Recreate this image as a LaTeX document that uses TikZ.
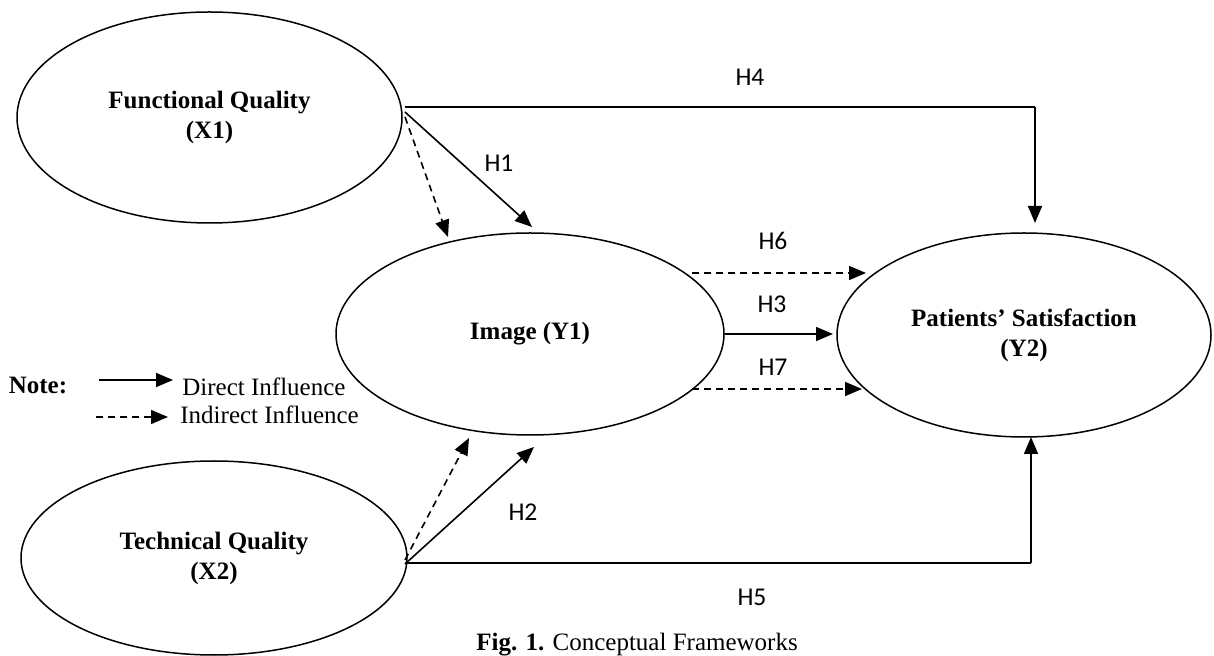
\documentclass[tikz,border=0pt]{standalone}
\usepackage{fontspec}
\setmainfont{Liberation Serif}
\newfontfamily\hfont{Carlito}
\usetikzlibrary{shapes.geometric,arrows.meta}
\tikzset{
latent/.style={draw,ellipse,line width=0.75pt,inner sep=0pt,align=center,font=\fontsize{12.5}{15}\selectfont\bfseries},
direct/.style={->,line width=0.8pt},
indirect/.style={->,line width=0.8pt,dash pattern=on 3.5pt off 2.5pt},
hlab/.style={font=\hfont\fontsize{12.8}{15}\selectfont},
plain/.style={font=\fontsize{12.5}{15}\selectfont,inner sep=0pt}
}
\begin{document}
\begin{tikzpicture}[>={Triangle[length=8.5pt,width=7pt]},line join=round,x=0.5pt,y=-0.5pt]
\useasboundingbox (0,0) rectangle (1214,656);
\node[latent,minimum width=192.5pt,minimum height=105.5pt] (X1) at (209.5,117.5) {Functional Quality\\(X1)};
\node[latent,minimum width=194pt,minimum height=101pt] (Y1) at (530,334) {Image (Y1)};
\node[latent,minimum width=187pt,minimum height=102pt] (Y2) at (1024,335) {Patients' Satisfaction\\(Y2)};
\node[latent,minimum width=193pt,minimum height=97pt] (X2) at (214,558) {Technical Quality\\(X2)};
\path (405,107)coordinate(h4s) (1035,107)coordinate(h4c) (1035,223)coordinate(h4e)
      (405,112)coordinate(h1s) (532,227)coordinate(h1e) (405,117)coordinate(i1s) (448,237)coordinate(i1e)
      (692,273)coordinate(h6s) (866,273)coordinate(h6e) (833,334)coordinate(h3e)
      (692,389)coordinate(h7s) (862,389)coordinate(h7e)
      (405,564)coordinate(h2s) (534,447)coordinate(h2e) (405,560)coordinate(i2s) (469,438)coordinate(i2e)
      (405,563)coordinate(h5s) (1031,563)coordinate(h5c) (1031,437)coordinate(h5e);
\draw[line width=1.1pt] (h4s)--(h4c);
\draw[direct] (h4c)--(h4e);
\draw[direct] (h1s)--(h1e);
\draw[indirect] (i1s)--(i1e);
\draw[indirect] (h6s)--(h6e);
\draw[direct] (Y1.east)--(h3e);
\draw[indirect] (h7s)--(h7e);
\draw[direct] (h2s)--(h2e);
\draw[indirect] (i2s)--(i2e);
\draw[line width=1.1pt] (h5s)--(h5c);
\draw[direct] (h5c)--(h5e);
\foreach \lab/\x/\y in {H4/750/77,H1/499/163,H6/773/241,H3/772/304,H7/773/367,H2/523/512,H5/752/597}
  \node[hlab] (\lab) at (\x,\y) {\lab};
\node[plain,font=\fontsize{12.5}{15}\selectfont\bfseries] (note) at (38,385) {Note:};
\path (99,380)coordinate(ds) (173,380)coordinate(de) (96,417)coordinate(is) (168,417)coordinate(ie);
\draw[direct] (ds)--(de);
\draw[indirect] (is)--(ie);
\node[plain,anchor=west] (direct) at (182,387) {Direct Influence};
\node[plain,anchor=west] (indirect) at (180,415) {Indirect Influence};
\node[plain] (caption) at (637,645) {\textbf{Fig. 1.} Conceptual Frameworks};
\end{tikzpicture}
\end{document}
